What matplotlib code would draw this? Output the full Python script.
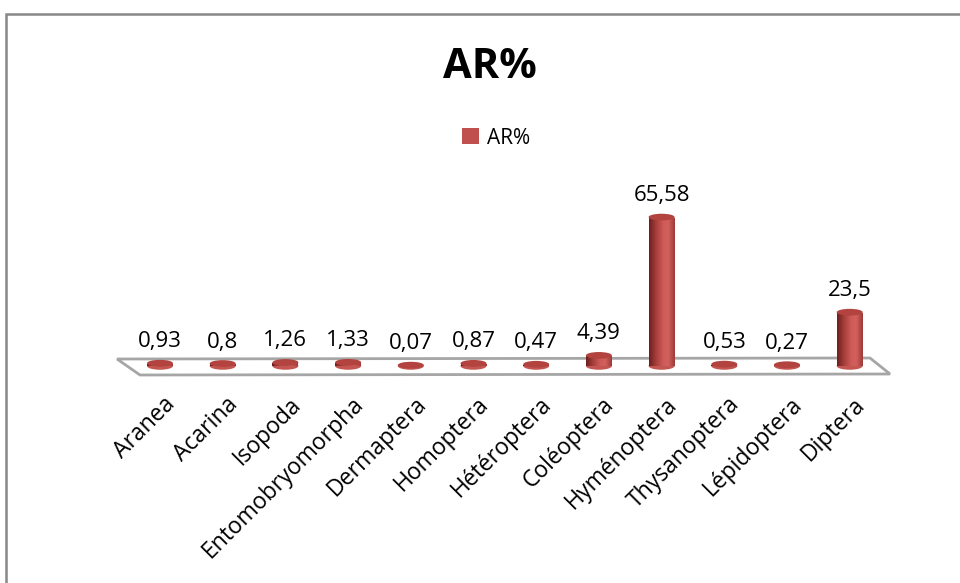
import numpy as np
import matplotlib
matplotlib.use("Agg")
import matplotlib.pyplot as plt
from matplotlib.patches import Ellipse, Polygon, Rectangle, Patch
from matplotlib.colors import LinearSegmentedColormap

# donnees
categories = ["Aranea", "Acarina", "Isopoda", "Entomobryomorpha", "Dermaptera",
              "Homoptera", "Hétéroptera", "Coléoptera", "Hyménoptera",
              "Thysanoptera", "Lépidoptera", "Diptera"]
values = [0.93, 0.8, 1.26, 1.33, 0.07, 0.87, 0.47, 4.39, 65.58, 0.53, 0.27, 23.5]
labels = ["0,93", "0,8", "1,26", "1,33", "0,07", "0,87", "0,47", "4,39",
          "65,58", "0,53", "0,27", "23,5"]

plt.rcParams['font.family'] = ['Open Sans', 'DejaVu Sans']

W, H = 960, 583
fig = plt.figure(figsize=(9.6, 5.83), dpi=100)

# axes: pixel 100..900 en x, 180..400 en y
x0px, x1px, y0px, y1px = 100, 900, 180, 400
ax = fig.add_axes([x0px / W, 1 - y1px / H, (x1px - x0px) / W, (y1px - y0px) / H])
step = 62.7
base_x = 160
base_y = 366
ppu = 2.26
ax.set_xlim((x0px - base_x) / step, (x1px - base_x) / step)
ax.set_ylim((base_y - y1px) / ppu, (base_y - y0px) / ppu)
ax.axis('off')

def px2d(px, py):
    return ((px - base_x) / step, (base_y - py) / ppu)

# plancher
floor = Polygon([px2d(117, 359), px2d(870, 358), px2d(890, 374), px2d(140, 375)],
                closed=True, facecolor='white', edgecolor='#a6a6a6', lw=2, zorder=1)
ax.add_patch(floor)

cyl = LinearSegmentedColormap.from_list(
    "cyl", [(0.0, '#6e1f1d'), (0.25, '#a23c39'), (0.55, '#cf5b57'),
            (0.75, '#d2605c'), (1.0, '#9c3b38')])
grad = np.linspace(0, 1, 64).reshape(1, -1)

xs = np.arange(len(values))
bw = 26 / step
eh = 7.5 / ppu
bars = ax.bar(xs, values, bw, color='none', edgecolor='none', zorder=3)
for i, (b, v) in enumerate(zip(bars, values)):
    cx = b.get_x() + b.get_width() / 2
    ax.add_patch(Ellipse((cx, 0), bw, eh, facecolor='#c45652', edgecolor='none', zorder=2))
    im = ax.imshow(grad, extent=(b.get_x(), b.get_x() + b.get_width(), 0, v),
                   cmap=cyl, aspect='auto', zorder=3, interpolation='bilinear')
    im.set_clip_path(b)
    ax.add_patch(Ellipse((cx, v + 0.3), bw, eh * 0.9, facecolor='#b2433f',
                         edgecolor='none', zorder=4))
    ax.annotate(labels[i], (cx, v), xytext=(0, 12), textcoords='offset points',
                ha='center', va='baseline', fontsize=16, color='black', zorder=5)

ax.set_xlim((x0px - base_x) / step, (x1px - base_x) / step)
ax.set_ylim((base_y - y1px) / ppu, (base_y - y0px) / ppu)

# etiquettes des categories
for i, c in enumerate(categories):
    tx = (base_x + step * i + 12) / W
    ty = 1 - 401 / H
    fig.text(tx, ty, c, rotation=45, rotation_mode='anchor', ha='right',
             va='center', fontsize=16.5)

# titre et legende
fig.text(490 / W, 1 - 67 / H, "AR%", ha='center', va='center',
         fontsize=30, fontweight='bold')
fig.legend(handles=[Patch(facecolor='#c0504d', label='AR%')], loc='center',
           bbox_to_anchor=(496 / W, 1 - 138 / H), frameon=False, fontsize=15,
           handlelength=0.8, handleheight=0.8, handletextpad=0.4)

# cadre
fig.patches.append(Rectangle((6 / W, -0.1), 1.2, 1 - 14 / H + 0.1,
                             transform=fig.transFigure, fill=False,
                             edgecolor='#888888', lw=1.8))

fig.savefig("out.png", dpi=100)
